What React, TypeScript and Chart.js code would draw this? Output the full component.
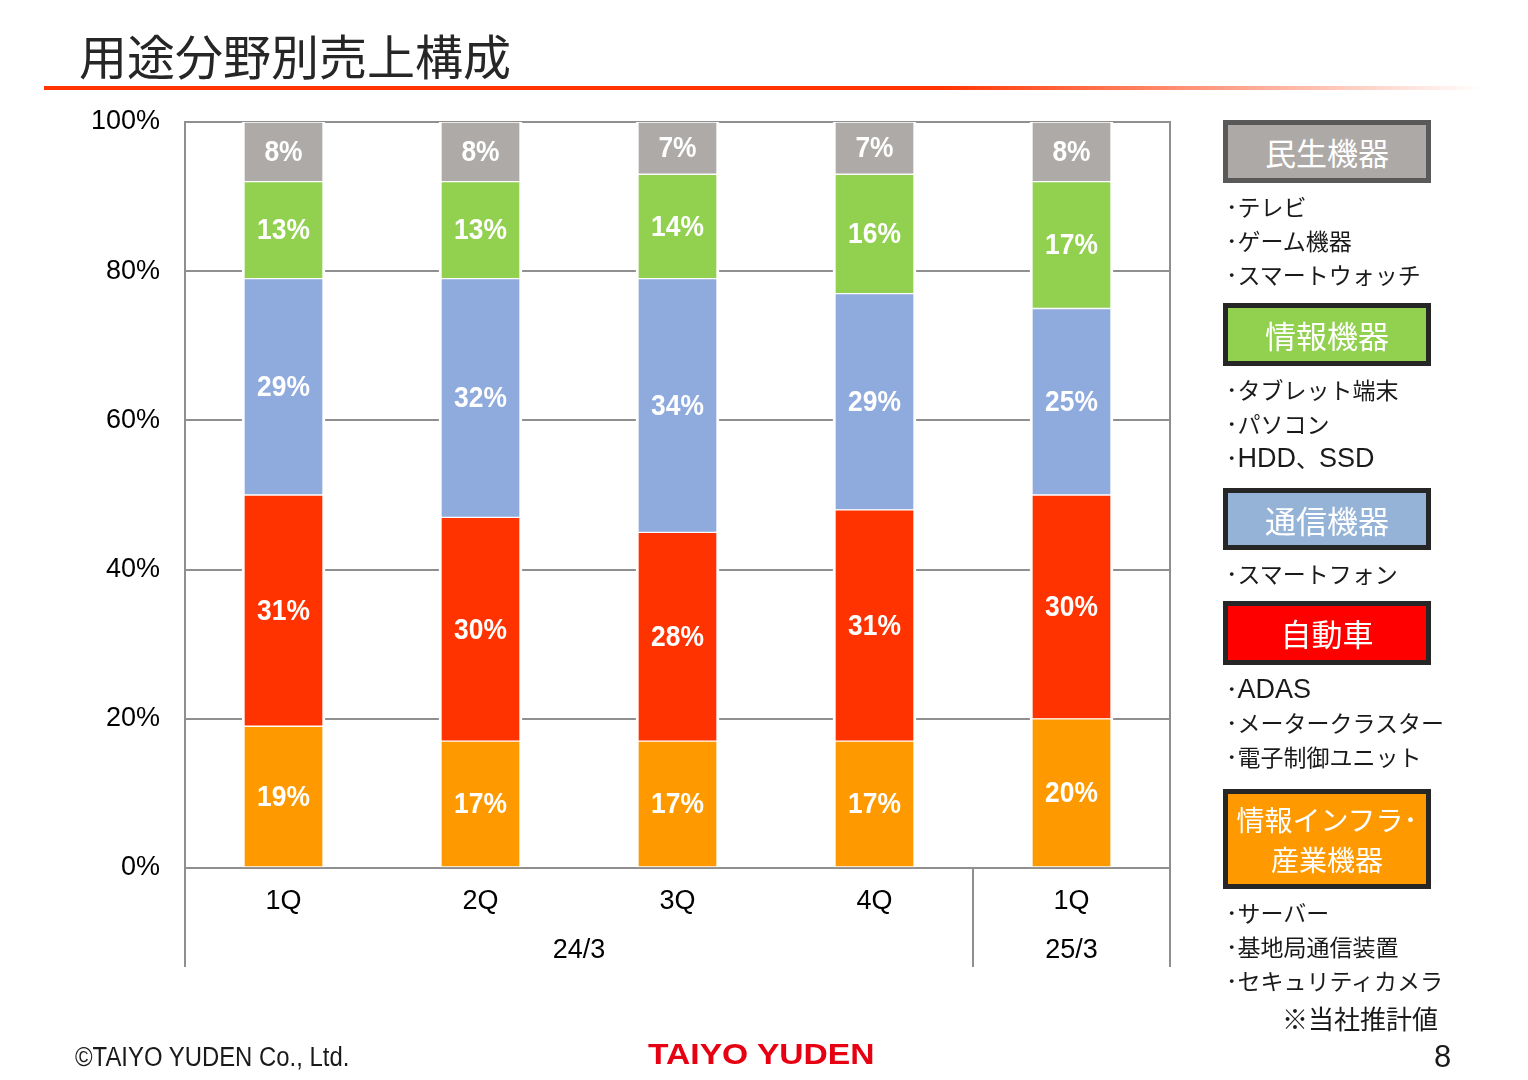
import React, { useEffect, useRef } from 'react';
import { Chart, registerables } from 'chart.js';

Chart.register(...registerables);

// ---- data ----
const categories = ['1Q', '2Q', '3Q', '4Q', '1Q'];
const fiscalYears = ['24/3', '25/3'];
const fiscalYearSpans = [4, 1];
const seriesNames = ['情報インフラ・産業機器', '自動車', '通信機器', '情報機器', '民生機器'];
const infraIndustrial = [19, 17, 17, 17, 20];
const automotive = [31, 30, 28, 31, 30];
const communication = [29, 32, 34, 29, 25];
const informationDevices = [13, 13, 14, 16, 17];
const consumer = [8, 8, 7, 7, 8];
const yTickValues = [0, 20, 40, 60, 80, 100];

const seriesColors = ['#FF9900', '#FF3300', '#8FAADC', '#92D050', '#ADAAA7'];

const legendTitles = ['民生機器', '情報機器', '通信機器', '自動車', '情報インフラ･\n産業機器'];
const legendItems = [
  ['テレビ', 'ゲーム機器', 'スマートウォッチ'],
  ['タブレット端末', 'パソコン', 'HDD、SSD'],
  ['スマートフォン'],
  ['ADAS', 'メータークラスター', '電子制御ユニット'],
  ['サーバー', '基地局通信装置', 'セキュリティカメラ'],
];
const legendFill = ['#ADA9A7', '#92D050', '#95B3D7', '#FF0000', '#FF9900'];
const legendBorder = ['#595959', '#262626', '#262626', '#262626', '#262626'];
const legendTop = [120, 303, 488, 601, 789];
const legendHeight = [63, 63, 62, 64, 100];

const GRID = '#8f8f8f';
const NUM_FONT = '"Liberation Sans", Arial, sans-serif';
const JP_FONT = '"Noto Sans CJK JP", "Noto Sans", sans-serif';

const decorPlugin = {
  id: 'decor',
  afterDatasetsDraw(chart: any) {
    const { ctx, chartArea, scales } = chart;
    const x = scales.x;
    const bottomExt = chartArea.bottom + 99;
    ctx.save();
    // data labels
    chart.data.datasets.forEach((ds: any, di: number) => {
      const meta = chart.getDatasetMeta(di);
      meta.data.forEach((el: any, i: number) => {
        const cy = (el.y + el.base) / 2;
        ctx.save();
        ctx.translate(el.x, cy);
        ctx.scale(0.88, 1);
        ctx.fillStyle = '#ffffff';
        ctx.font = 'bold 30px ' + NUM_FONT;
        ctx.textAlign = 'center';
        ctx.textBaseline = 'middle';
        ctx.fillText(ds.data[i] + '%', 0, 1);
        ctx.restore();
      });
    });
    // frame lines
    ctx.strokeStyle = GRID;
    ctx.lineWidth = 2;
    const vline = (px: number, y0: number, y1: number) => {
      ctx.beginPath();
      ctx.moveTo(px, y0);
      ctx.lineTo(px, y1);
      ctx.stroke();
    };
    vline(chartArea.left, chartArea.top - 1, bottomExt);
    vline(chartArea.right, chartArea.top - 1, bottomExt);
    const half = (x.getPixelForValue(1) - x.getPixelForValue(0)) / 2;
    let idx = 0;
    ctx.fillStyle = '#000';
    ctx.font = '27px ' + NUM_FONT;
    ctx.textAlign = 'center';
    ctx.textBaseline = 'middle';
    fiscalYears.forEach((label, g) => {
      const span = fiscalYearSpans[g];
      const left = x.getPixelForValue(idx) - half;
      const right = x.getPixelForValue(idx + span - 1) + half;
      if (g > 0) vline(Math.round(left), chartArea.bottom, bottomExt);
      ctx.fillText(label, (left + right) / 2, chartArea.bottom + 83);
      idx += span;
    });
    ctx.restore();
  },
};

function ChartCanvas() {
  const ref = useRef<HTMLCanvasElement | null>(null);
  useEffect(() => {
    if (!ref.current) return;
    const seriesData = [infraIndustrial, automotive, communication, informationDevices, consumer];
    const chart = new Chart(ref.current, {
      type: 'bar',
      data: {
        labels: categories,
        datasets: seriesData.map((d, i) => ({
          label: seriesNames[i],
          data: d,
          backgroundColor: seriesColors[i],
          borderColor: '#ffffff',
          borderWidth: { top: 1, bottom: 1, left: 3, right: 3 },
          borderSkipped: false,
          barThickness: 83,
        })),
      },
      options: {
        responsive: false,
        maintainAspectRatio: false,
        animation: false,
        layout: { padding: { left: 0, top: 122, right: 358, bottom: 113 } },
        plugins: { legend: { display: false }, tooltip: { enabled: false }, title: { display: false } },
        scales: {
          x: {
            stacked: true,
            grid: { display: false, drawTicks: false },
            border: { display: false },
            ticks: { color: '#000', font: { size: 27, family: NUM_FONT }, padding: 17 },
            afterFit: (s: any) => { s.height = 99; },
          },
          y: {
            stacked: true,
            min: 0,
            max: 100,
            afterBuildTicks: (s: any) => { s.ticks = yTickValues.map((v) => ({ value: v })); },
            grid: { color: GRID, lineWidth: 2, drawTicks: false },
            border: { display: false },
            ticks: {
              color: '#000',
              font: { size: 27, family: NUM_FONT },
              padding: 25,
              callback: (v: any) => v + '%',
            },
            afterFit: (s: any) => { s.width = 185; },
          },
        },
      },
      plugins: [decorPlugin],
    });
    return () => chart.destroy();
  }, []);
  return <canvas ref={ref} width={1528} height={1080} style={{ position: 'absolute', left: 0, top: 0 }} />;
}

function MixedText({ text }: { text: string }) {
  const parts = text.split(/([A-Za-z0-9]+)/).filter((p) => p.length > 0);
  return (
    <>
      {parts.map((p, k) =>
        /^[A-Za-z0-9]+$/.test(p) ? (
          <span key={k} style={{ fontFamily: NUM_FONT, fontSize: 27 }}>{p}</span>
        ) : (
          <span key={k}>{p}</span>
        )
      )}
    </>
  );
}

export default function App() {
  return (
    <div style={{ position: 'fixed', left: 0, top: 0, width: 1528, height: 1080, background: '#fff', overflow: 'hidden' }}>
      <ChartCanvas />
      <div style={{ position: 'absolute', left: 79, top: 28, fontFamily: JP_FONT, fontSize: 48, lineHeight: '52px', color: '#262626', whiteSpace: 'nowrap' }}>
        用途分野別売上構成
      </div>
      <div style={{ position: 'absolute', left: 44, top: 86, width: 1440, height: 4, background: 'linear-gradient(to right, #FF3300 0%, #FF3300 62%, rgba(255,51,0,0) 100%)' }} />
      {legendTitles.map((t, i) => (
        <React.Fragment key={i}>
          <div
            style={{
              position: 'absolute', left: 1223, top: legendTop[i], width: 208, height: legendHeight[i], boxSizing: 'border-box',
              border: `5px solid ${legendBorder[i]}`, background: legendFill[i], color: '#fff', fontFamily: JP_FONT,
              fontSize: i === 4 ? 28 : 31, lineHeight: i === 4 ? '40px' : '53px', textAlign: 'center', whiteSpace: 'pre',
              paddingTop: i === 4 ? 5 : 0,
            }}
          >
            {t}
          </div>
          {legendItems[i].map((it, j) => (
            <div
              key={j}
              style={{
                position: 'absolute', left: 1226, top: legendTop[i] + legendHeight[i] + 6 + j * 34, height: 34, lineHeight: '34px',
                fontFamily: JP_FONT, fontSize: 23, color: '#1a1a1a', whiteSpace: 'nowrap',
              }}
            >
              ･<MixedText text={it} />
            </div>
          ))}
        </React.Fragment>
      ))}
      <div style={{ position: 'absolute', right: 1528 - 1438, top: 1001, lineHeight: '34px', fontFamily: JP_FONT, fontSize: 26, color: '#1a1a1a', whiteSpace: 'nowrap' }}>
        ※当社推計値
      </div>
      <div style={{ position: 'absolute', left: 75, top: 1041, lineHeight: '32px', fontFamily: NUM_FONT, fontSize: 27, color: '#1a1a1a', whiteSpace: 'nowrap', transform: 'scaleX(0.885)', transformOrigin: 'left center' }}>
        ©TAIYO YUDEN Co., Ltd.
      </div>
      <div style={{ position: 'absolute', left: 648, top: 1037, lineHeight: '34px', fontFamily: NUM_FONT, fontWeight: 900, fontSize: 30, color: '#E60012', whiteSpace: 'nowrap', transform: 'scaleX(1.12)', transformOrigin: 'left center' }}>
        TAIYO YUDEN
      </div>
      <div style={{ position: 'absolute', left: 1434, top: 1039, lineHeight: '36px', fontFamily: NUM_FONT, fontSize: 31, color: '#1a1a1a' }}>
        8
      </div>
    </div>
  );
}
